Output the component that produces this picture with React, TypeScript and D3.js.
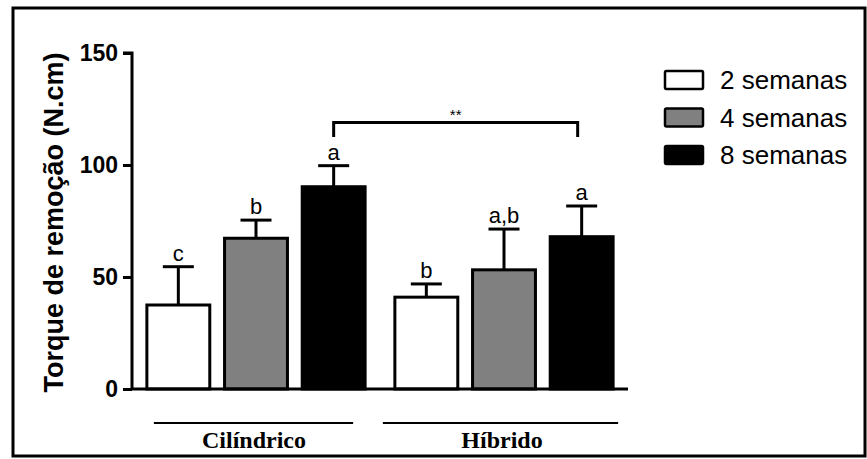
import React, { useEffect, useRef } from "react";
import * as d3 from "d3";

// values
const groups = ["Cilíndrico", "Híbrido"];
const series = ["2 semanas", "4 semanas", "8 semanas"];
const seriesColors = ["#ffffff", "#808080", "#000000"];
const means = [
  [37.5, 67.3, 90.3],
  [41.0, 53.2, 68.0],
];
const errors = [
  [17.1, 8.1, 9.4],
  [5.9, 18.2, 13.7],
];
const letters = [
  ["c", "b", "a"],
  ["b", "a,b", "a"],
];
const yTicks = [0, 50, 100, 150];
const yTitle = "Torque de remoção (N.cm)";
const sigLabel = "**";
const sigLevel = 119;
const sigLeg = 112.5;

const W = 867;
const H = 459;
const margin = { top: 53, right: 239, bottom: 70, left: 132 };

const App = () => {
  const svgRef = useRef<SVGSVGElement | null>(null);

  useEffect(() => {
    const svg = d3.select(svgRef.current);
    svg.selectAll("*").remove();

    const x0 = d3
      .scaleBand()
      .domain(groups)
      .range([margin.left, W - margin.right])
      .paddingInner(0.12)
      .paddingOuter(0.06);

    const x1 = d3
      .scaleBand()
      .domain(series)
      .range([0, x0.bandwidth()])
      .paddingInner(0.19)
      .paddingOuter(0);

    const y = d3
      .scaleLinear()
      .domain([0, 150])
      .range([H - margin.bottom, margin.top]);

    const cx = (g: number, s: number) =>
      (x0(groups[g]) as number) + (x1(series[s]) as number) + x1.bandwidth() / 2;

    // frame
    svg
      .append("rect")
      .attr("x", 13)
      .attr("y", 8)
      .attr("width", 852)
      .attr("height", 448)
      .attr("fill", "none")
      .attr("stroke", "#000")
      .attr("stroke-width", 3);

    // bars
    const gBars = svg.append("g");
    groups.forEach((g, gi) => {
      series.forEach((s, si) => {
        const bx = (x0(g) as number) + (x1(s) as number);
        gBars
          .append("rect")
          .attr("x", bx)
          .attr("y", y(means[gi][si]))
          .attr("width", x1.bandwidth())
          .attr("height", y(0) - y(means[gi][si]))
          .attr("fill", seriesColors[si])
          .attr("stroke", "#000")
          .attr("stroke-width", 3);

        const c = cx(gi, si);
        const top = y(means[gi][si] + errors[gi][si]);
        gBars
          .append("line")
          .attr("x1", c)
          .attr("x2", c)
          .attr("y1", y(means[gi][si]))
          .attr("y2", top)
          .attr("stroke", "#000")
          .attr("stroke-width", 3);
        gBars
          .append("line")
          .attr("x1", c - 15.5)
          .attr("x2", c + 15.5)
          .attr("y1", top)
          .attr("y2", top)
          .attr("stroke", "#000")
          .attr("stroke-width", 3);
        gBars
          .append("text")
          .attr("x", c)
          .attr("y", top - 6)
          .attr("text-anchor", "middle")
          .attr("font-family", "Liberation Sans, Arial, sans-serif")
          .attr("font-size", 22)
          .text(letters[gi][si]);
      });
    });

    // y axis
    const yAxis = d3
      .axisLeft(y)
      .tickValues(yTicks)
      .tickSize(9)
      .tickPadding(5)
      .tickFormat(d3.format("d"));
    const gy = svg
      .append("g")
      .attr("transform", `translate(${margin.left},0)`)
      .call(yAxis);
    gy.select(".domain").attr("stroke-width", 3).attr("d", `M-9,${y(150)}H0V${y(0)}`);
    gy.selectAll(".tick line").attr("stroke-width", 3);
    gy.selectAll(".tick text")
      .attr("font-family", "Liberation Sans, Arial, sans-serif")
      .attr("font-weight", "bold")
      .attr("font-size", 23)
      .attr("fill", "#000");

    // x baseline
    svg
      .append("line")
      .attr("x1", margin.left)
      .attr("x2", 628)
      .attr("y1", y(0))
      .attr("y2", y(0))
      .attr("stroke", "#000")
      .attr("stroke-width", 3);

    // y title
    svg
      .append("text")
      .attr("transform", `translate(63,${(48 + 397) / 2}) rotate(-90)`)
      .attr("text-anchor", "middle")
      .attr("font-family", "Liberation Sans, Arial, sans-serif")
      .attr("font-weight", "bold")
      .attr("font-size", 27)
      .text(yTitle);

    // significance bracket
    const bl = cx(0, 2);
    const br = cx(1, 2) - 4;
    svg
      .append("path")
      .attr("d", `M${bl},${y(sigLeg)}V${y(sigLevel)}H${br}V${y(sigLeg)}`)
      .attr("fill", "none")
      .attr("stroke", "#000")
      .attr("stroke-width", 3);
    svg
      .append("text")
      .attr("x", (bl + br) / 2)
      .attr("y", y(sigLevel) - 2)
      .attr("text-anchor", "middle")
      .attr("font-family", "Liberation Sans, Arial, sans-serif")
      .attr("font-size", 15)
      .text(sigLabel);

    // group labels with underlines
    const lineOffsets = [
      [7, -12],
      [-12, 5],
    ];
    groups.forEach((g, gi) => {
      const gx = x0(g) as number;
      svg
        .append("line")
        .attr("x1", gx + lineOffsets[gi][0])
        .attr("x2", gx + x0.bandwidth() + lineOffsets[gi][1])
        .attr("y1", 423)
        .attr("y2", 423)
        .attr("stroke", "#000")
        .attr("stroke-width", 2);
      svg
        .append("text")
        .attr("x", gx + x0.bandwidth() / 2 + (gi === 0 ? -2 : -2))
        .attr("y", 448)
        .attr("text-anchor", "middle")
        .attr("font-family", "Liberation Serif, Times New Roman, serif")
        .attr("font-weight", "bold")
        .attr("font-size", 24)
        .text(g);
    });

    // legend
    const legend = svg.append("g").attr("transform", "translate(665,71)");
    series.forEach((s, i) => {
      const row = legend.append("g").attr("transform", `translate(0,${i * 37.5})`);
      row
        .append("rect")
        .attr("x", 0)
        .attr("y", 0)
        .attr("width", 38)
        .attr("height", 18)
        .attr("rx", 1.5)
        .attr("fill", seriesColors[i])
        .attr("stroke", "#000")
        .attr("stroke-width", 2.5);
      row
        .append("text")
        .attr("x", 55)
        .attr("y", 9)
        .attr("dominant-baseline", "central")
        .attr("font-family", "Liberation Sans, Arial, sans-serif")
        .attr("font-size", 26)
        .text(s);
    });
  }, []);

  return (
    <svg
      ref={svgRef}
      width={W}
      height={H}
      style={{ position: "absolute", left: 0, top: 0, background: "#fff" }}
    />
  );
};

export default App;
